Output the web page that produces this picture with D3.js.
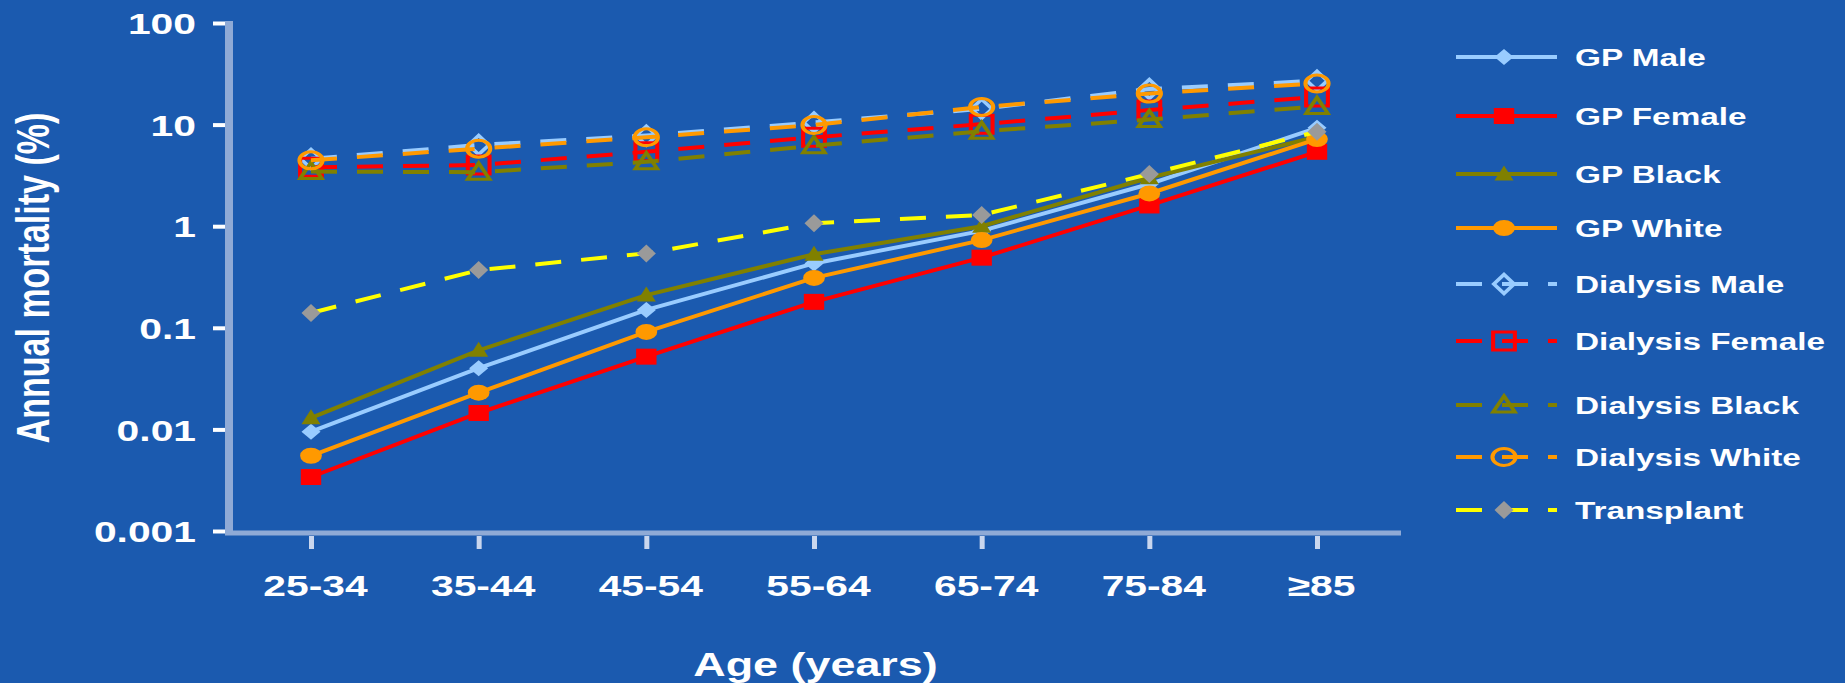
<!DOCTYPE html>
<html>
<head>
<meta charset="utf-8">
<script src="https://cdn.jsdelivr.net/npm/d3@7"></script>
<style>
  html, body { margin: 0; padding: 0; background: #1B5AAF; }
  svg { display: block; }
  text { font-family: "Liberation Sans", Arial, sans-serif; font-weight: bold; fill: #ffffff; }
</style>
</head>
<body>
<svg id="chart" width="1845" height="683"></svg>
<script>
// ---- data -----------------------------------------------------------
const ageGroups = ["25-34", "35-44", "45-54", "55-64", "65-74", "75-84", "≥85"];
const yTickValues = [0.001, 0.01, 0.1, 1, 10, 100];

// annual cardiovascular mortality (%) by age group
const gpMale         = [0.0095, 0.040, 0.15, 0.43, 0.90, 2.6, 9.3];
const gpFemale       = [0.0034, 0.0145, 0.052, 0.18, 0.49, 1.6, 5.4];
const gpBlack        = [0.013, 0.060, 0.21, 0.53, 1.0, 3.0, 7.6];
const gpWhite        = [0.0055, 0.023, 0.091, 0.31, 0.73, 2.1, 7.2];
const dialysisMale   = [4.6, 6.3, 7.8, 10.5, 14.3, 22.4, 27];
const dialysisFemale = [3.8, 4.0, 5.4, 7.5, 10.1, 13.9, 18.7];
const dialysisBlack  = [3.45, 3.4, 4.3, 6.2, 8.6, 11.2, 15.1];
const dialysisWhite  = [4.45, 5.8, 7.5, 9.9, 14.9, 20.2, 25.4];
const transplant     = [0.14, 0.37, 0.54, 1.07, 1.29, 3.26, 8.5];

// ---- layout ---------------------------------------------------------
const W = 1845, H = 683;
const SX = 1.36;               // horizontal stretch applied to glyphs and markers
const BG = "#1B5AAF";
const AXIS = "#8FAAD6";
const legendRowY = [57, 116, 174, 228, 284, 341, 405, 457, 510];

const series = [
  { name: "GP Male",         values: gpMale,         color: "#99CCFF", shape: "diamond",  filled: true,  dashed: false },
  { name: "GP Female",       values: gpFemale,       color: "#FF0000", shape: "square",   filled: true,  dashed: false },
  { name: "GP Black",        values: gpBlack,        color: "#808000", shape: "triangle", filled: true,  dashed: false },
  { name: "GP White",        values: gpWhite,        color: "#FF9900", shape: "circle",   filled: true,  dashed: false },
  { name: "Dialysis Male",   values: dialysisMale,   color: "#99CCFF", shape: "diamond",  filled: false, dashed: true },
  { name: "Dialysis Female", values: dialysisFemale, color: "#FF0000", shape: "square",   filled: false, dashed: true },
  { name: "Dialysis Black",  values: dialysisBlack,  color: "#808000", shape: "triangle", filled: false, dashed: true },
  { name: "Dialysis White",  values: dialysisWhite,  color: "#FF9900", shape: "circle",   filled: false, dashed: true },
  { name: "Transplant",      values: transplant,     color: "#FFFF00", shape: "plant",    filled: true,  dashed: true, markerColor: "#9A9A9A" }
];

const svg = d3.select("#chart");
svg.append("rect").attr("width", W).attr("height", H).attr("fill", BG);

const x = d3.scalePoint().domain(ageGroups).range([311, 1317]);
const y = d3.scaleLog().domain([0.001, 100]).range([531, 23]);

// marker outlines in local units (stretched horizontally by SX when placed)
function markerPath(shape, filled) {
  if (filled) {
    switch (shape) {
      case "diamond":  return "M0,-8L7,0L0,8L-7,0Z";
      case "square":   return "M-7.5,-8h15v16h-15Z";
      case "triangle": return "M0,-8.5L7,6.5L-7,6.5Z";
      case "circle":   return "M-8,0a8,8 0 1,0 16,0a8,8 0 1,0 -16,0Z";
      case "plant":    return "M0,-9L7,0L0,9L-7,0Z";
    }
  } else {
    switch (shape) {
      case "diamond":  return "M0,-9.5L7.5,0L0,9.5L-7.5,0Z";
      case "square":   return "M-8,-9h16v18h-16Z";
      case "triangle": return "M0,-9L8,7L-8,7Z";
      case "circle":   return "M-8.5,0a8.5,8.5 0 1,0 17,0a8.5,8.5 0 1,0 -17,0Z";
    }
  }
}

function drawMarker(g, s, px, py) {
  const p = g.append("path")
    .attr("d", markerPath(s.shape, s.filled))
    .attr("transform", `translate(${px},${py}) scale(${SX},1)`);
  if (s.filled) {
    p.attr("fill", s.markerColor || s.color).attr("stroke", "none");
  } else {
    p.attr("fill", "none").attr("stroke", s.color).attr("stroke-width", 3);
  }
}

function stretchedText(g, str, tx, ty, size, anchor, extra) {
  return g.append("text")
    .attr("transform", `translate(${tx},${ty}) scale(${SX},1)` + (extra || ""))
    .attr("font-size", size)
    .attr("text-anchor", anchor)
    .text(str);
}

// ---- axes -----------------------------------------------------------
svg.append("line").attr("x1", 229).attr("x2", 229).attr("y1", 21).attr("y2", 535)
  .attr("stroke", AXIS).attr("stroke-width", 8);
svg.append("line").attr("x1", 225).attr("x2", 1401).attr("y1", 533).attr("y2", 533)
  .attr("stroke", AXIS).attr("stroke-width", 5);

const yAxis = d3.axisLeft(y).tickValues(yTickValues).tickFormat(d => String(d))
  .tickSize(12).tickSizeOuter(0);
const gy = svg.append("g").attr("transform", "translate(225,0)").call(yAxis);
gy.select(".domain").remove();
gy.selectAll(".tick line").attr("stroke", "#ffffff").attr("stroke-width", 4);
gy.selectAll(".tick text")
  .attr("x", null).attr("dy", null)
  .attr("transform", `translate(-29,10.7) scale(${SX},1)`)
  .attr("text-anchor", "end")
  .attr("font-size", 30);

const xAxis = d3.axisBottom(x).tickSize(13).tickSizeOuter(0);
const gx = svg.append("g").attr("transform", "translate(0,536)").call(xAxis);
gx.select(".domain").remove();
gx.selectAll(".tick line").attr("stroke", "#C9D6EE").attr("stroke-width", 5);
gx.selectAll(".tick text")
  .attr("y", null).attr("dy", null)
  .attr("transform", `translate(4,59.5) scale(${SX},1)`)
  .attr("text-anchor", "middle")
  .attr("font-size", 30);

// axis titles
stretchedText(svg, "Age (years)", 815.5, 676, 33, "middle");
stretchedText(svg, "Annual mortality (%)", 49, 278, 34, "middle", " rotate(-90)");

// ---- series ---------------------------------------------------------
const line = d3.line()
  .x((d, i) => x(ageGroups[i]))
  .y(d => y(d));

const plot = svg.append("g");
series.forEach(s => {
  const g = plot.append("g");
  g.append("path")
    .datum(s.values)
    .attr("d", line)
    .attr("fill", "none")
    .attr("stroke", s.color)
    .attr("stroke-width", 4)
    .attr("stroke-dasharray", s.dashed ? "26 20" : null);
  s.values.forEach((v, i) => drawMarker(g, s, x(ageGroups[i]), y(v)));
});

// ---- legend ---------------------------------------------------------
const legend = svg.append("g");
series.forEach((s, i) => {
  const yy = legendRowY[i];
  legend.append("line")
    .attr("x1", 1456).attr("x2", 1557).attr("y1", yy).attr("y2", yy)
    .attr("stroke", s.color).attr("stroke-width", 4)
    .attr("stroke-dasharray", s.dashed ? "26 20" : null);
  drawMarker(legend, s, 1504, yy);
  stretchedText(legend, s.name, 1575, yy + 8.8, 24.5, "start");
});
</script>
</body>
</html>
